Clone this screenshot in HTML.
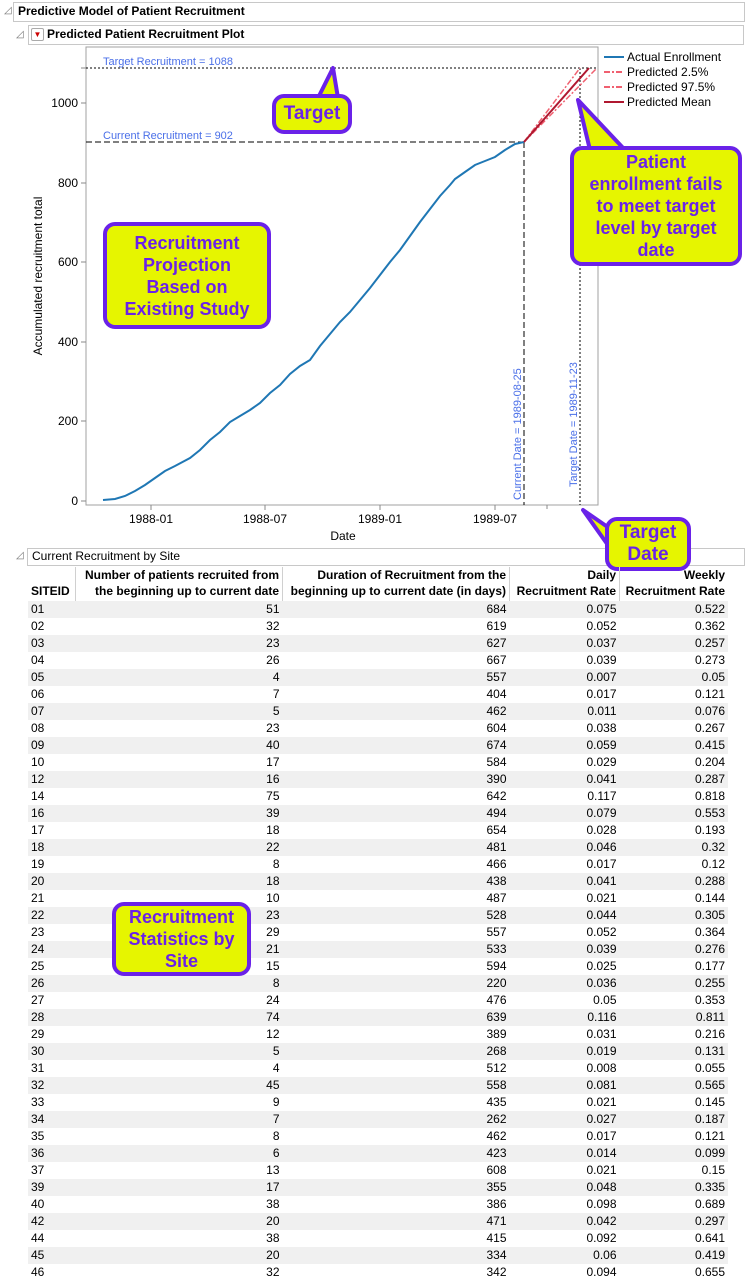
<!DOCTYPE html>
<html><head><meta charset="utf-8"><style>
body{margin:0;width:746px;height:1283px;background:#fff;font-family:"Liberation Sans",sans-serif;position:relative;overflow:hidden}
.hdr{position:absolute;border:1px solid #c8c8c8;background:#fff;font-weight:bold;font-size:12px;line-height:17px;padding-left:4px;box-sizing:border-box}
.tri{position:absolute;font-size:10px;color:#777}
table{position:absolute;left:28px;top:567px;border-collapse:collapse;font-size:12px}
td,th{padding:0 3px;height:17px;line-height:17px;text-align:right;white-space:nowrap}
th{font-weight:bold;vertical-align:bottom;line-height:16px;padding-bottom:2px;border-left:1px solid #d0d0d0}
th:first-child{border-left:none;text-align:left}
td:first-child{text-align:left}
tr.g td{background:#f0f0f0}
.co{position:absolute;background:#e6f500;border:4px solid #6a22e8;border-radius:12px;color:#6a22e8;font-weight:bold;text-align:center;box-sizing:border-box;display:flex;align-items:center;justify-content:center}
</style></head><body>
<div class="tri" style="left:4px;top:5px">◿</div>
<div class="hdr" style="left:13px;top:2px;width:732px;height:20px;">Predictive Model of Patient Recruitment</div>
<div class="tri" style="left:16px;top:29px">◿</div>
<div class="hdr" style="left:28px;top:25px;width:716px;height:20px;padding-left:18px">Predicted Patient Recruitment Plot</div>
<div style="position:absolute;left:31px;top:28px;width:11px;height:11px;border:1px solid #aaa;border-radius:2px;background:#fff;color:#c00;font-size:8px;line-height:11px;text-align:center">▼</div>
<div class="tri" style="left:16px;top:550px">◿</div>
<div class="hdr" style="left:27px;top:548px;width:718px;height:18px;font-weight:normal;line-height:15px">Current Recruitment by Site</div>

<svg style="position:absolute;left:0;top:0" width="746" height="560" font-family="Liberation Sans, sans-serif">
<rect x="86" y="47" width="512" height="458" fill="#fff" stroke="#a0a0a0"/>
<g font-size="12" fill="#000" text-anchor="end">
<text x="78" y="505">0</text><text x="78" y="425">200</text><text x="78" y="346">400</text><text x="78" y="266">600</text><text x="78" y="187">800</text><text x="78" y="107">1000</text>
</g>
<g stroke="#888"><line x1="81" y1="501" x2="86" y2="501"/><line x1="81" y1="421" x2="86" y2="421"/><line x1="81" y1="342" x2="86" y2="342"/><line x1="81" y1="262" x2="86" y2="262"/><line x1="81" y1="183" x2="86" y2="183"/><line x1="81" y1="103" x2="86" y2="103"/><line x1="81" y1="68" x2="86" y2="68"/>
<line x1="151" y1="505" x2="151" y2="510"/><line x1="265" y1="505" x2="265" y2="510"/><line x1="380" y1="505" x2="380" y2="510"/><line x1="495" y1="505" x2="495" y2="510"/><line x1="547" y1="505" x2="547" y2="509"/></g>
<g font-size="12" text-anchor="middle"><text x="151" y="523">1988-01</text><text x="265" y="523">1988-07</text><text x="380" y="523">1989-01</text><text x="495" y="523">1989-07</text><text x="343" y="540">Date</text></g>
<text transform="translate(42,276) rotate(-90)" font-size="12" text-anchor="middle">Accumulated recruitment total</text>
<line x1="86" y1="68" x2="598" y2="68" stroke="#000" stroke-dasharray="2,2"/>
<line x1="86" y1="142" x2="524" y2="142" stroke="#000" stroke-dasharray="6,3"/>
<line x1="524" y1="142" x2="524" y2="505" stroke="#000" stroke-dasharray="6,3"/>
<line x1="580" y1="68" x2="580" y2="505" stroke="#000" stroke-dasharray="2,2"/>
<g font-size="11" fill="#4a6fe8"><text x="103" y="65">Target Recruitment = 1088</text><text x="103" y="139">Current Recruitment = 902</text>
<text transform="translate(521,500) rotate(-90)">Current Date = 1989-08-25</text><text transform="translate(577,487) rotate(-90)">Target Date = 1989-11-23</text></g>
<polyline fill="none" stroke="#1f77b4" stroke-width="2" points="103,500 115,499 125,496 135,491 145,485 155,478 165,471 175,466 190,458 200,450 210,440 220,432 230,422 240,416 250,410 260,403 270,393 280,385 290,374 300,366 310,360 320,346 330,334 340,322 350,312 360,300 370,288 380,275 390,262 400,250 410,236 420,222 430,209 440,196 450,185 455,179 465,172 475,165 485,161 495,157 505,150 515,144 524,142"/>
<line x1="524" y1="142" x2="580" y2="68" stroke="#f06070" stroke-width="1.5" stroke-dasharray="6,2,2,2"/>
<line x1="524" y1="142" x2="597" y2="68" stroke="#f06070" stroke-width="1.5" stroke-dasharray="6,2,2,2"/>
<line x1="524" y1="142" x2="589" y2="68" stroke="#b01830" stroke-width="2"/>
<g font-size="12"><line x1="604" y1="57" x2="624" y2="57" stroke="#1f77b4" stroke-width="2"/><text x="627" y="61">Actual Enrollment</text>
<line x1="604" y1="72" x2="624" y2="72" stroke="#f06070" stroke-width="2" stroke-dasharray="6,2,2,2"/><text x="627" y="76">Predicted 2.5%</text>
<line x1="604" y1="87" x2="624" y2="87" stroke="#f06070" stroke-width="2" stroke-dasharray="6,2,2,2"/><text x="627" y="91">Predicted 97.5%</text>
<line x1="604" y1="102" x2="624" y2="102" stroke="#b01830" stroke-width="2"/><text x="627" y="106">Predicted Mean</text></g>
<g fill="#e6f500" stroke="#6a22e8" stroke-width="4" stroke-linejoin="round">
<polygon points="318,98 333,68 338,98"/><polygon points="590,150 578,100 625,150"/><polygon points="612,530 583,510 610,548"/></g>
</svg>
<div class="co" style="left:272px;top:94px;width:80px;height:40px;font-size:19px">Target</div>
<div class="co" style="left:570px;top:146px;width:172px;height:120px;font-size:18px;line-height:22px;padding:0 10px">Patient enrollment fails to meet target level by target date</div>
<div class="co" style="left:103px;top:222px;width:168px;height:107px;font-size:18px;line-height:22px;padding:0 14px">Recruitment Projection Based on Existing Study</div>
<div class="co" style="left:605px;top:517px;width:86px;height:54px;font-size:19px;line-height:22px">Target Date</div>

<table>
<tr><th style="width:41px">SITEID</th><th style="width:200px">Number of patients recruited from<br>the beginning up to current date</th><th style="width:220px">Duration of Recruitment from the<br>beginning up to current date (in days)</th><th style="width:103px">Daily<br>Recruitment Rate</th><th style="width:102px">Weekly<br>Recruitment Rate</th></tr>
<tr class="g"><td>01</td><td>51</td><td>684</td><td>0.075</td><td>0.522</td></tr>
<tr><td>02</td><td>32</td><td>619</td><td>0.052</td><td>0.362</td></tr>
<tr class="g"><td>03</td><td>23</td><td>627</td><td>0.037</td><td>0.257</td></tr>
<tr><td>04</td><td>26</td><td>667</td><td>0.039</td><td>0.273</td></tr>
<tr class="g"><td>05</td><td>4</td><td>557</td><td>0.007</td><td>0.05</td></tr>
<tr><td>06</td><td>7</td><td>404</td><td>0.017</td><td>0.121</td></tr>
<tr class="g"><td>07</td><td>5</td><td>462</td><td>0.011</td><td>0.076</td></tr>
<tr><td>08</td><td>23</td><td>604</td><td>0.038</td><td>0.267</td></tr>
<tr class="g"><td>09</td><td>40</td><td>674</td><td>0.059</td><td>0.415</td></tr>
<tr><td>10</td><td>17</td><td>584</td><td>0.029</td><td>0.204</td></tr>
<tr class="g"><td>12</td><td>16</td><td>390</td><td>0.041</td><td>0.287</td></tr>
<tr><td>14</td><td>75</td><td>642</td><td>0.117</td><td>0.818</td></tr>
<tr class="g"><td>16</td><td>39</td><td>494</td><td>0.079</td><td>0.553</td></tr>
<tr><td>17</td><td>18</td><td>654</td><td>0.028</td><td>0.193</td></tr>
<tr class="g"><td>18</td><td>22</td><td>481</td><td>0.046</td><td>0.32</td></tr>
<tr><td>19</td><td>8</td><td>466</td><td>0.017</td><td>0.12</td></tr>
<tr class="g"><td>20</td><td>18</td><td>438</td><td>0.041</td><td>0.288</td></tr>
<tr><td>21</td><td>10</td><td>487</td><td>0.021</td><td>0.144</td></tr>
<tr class="g"><td>22</td><td>23</td><td>528</td><td>0.044</td><td>0.305</td></tr>
<tr><td>23</td><td>29</td><td>557</td><td>0.052</td><td>0.364</td></tr>
<tr class="g"><td>24</td><td>21</td><td>533</td><td>0.039</td><td>0.276</td></tr>
<tr><td>25</td><td>15</td><td>594</td><td>0.025</td><td>0.177</td></tr>
<tr class="g"><td>26</td><td>8</td><td>220</td><td>0.036</td><td>0.255</td></tr>
<tr><td>27</td><td>24</td><td>476</td><td>0.05</td><td>0.353</td></tr>
<tr class="g"><td>28</td><td>74</td><td>639</td><td>0.116</td><td>0.811</td></tr>
<tr><td>29</td><td>12</td><td>389</td><td>0.031</td><td>0.216</td></tr>
<tr class="g"><td>30</td><td>5</td><td>268</td><td>0.019</td><td>0.131</td></tr>
<tr><td>31</td><td>4</td><td>512</td><td>0.008</td><td>0.055</td></tr>
<tr class="g"><td>32</td><td>45</td><td>558</td><td>0.081</td><td>0.565</td></tr>
<tr><td>33</td><td>9</td><td>435</td><td>0.021</td><td>0.145</td></tr>
<tr class="g"><td>34</td><td>7</td><td>262</td><td>0.027</td><td>0.187</td></tr>
<tr><td>35</td><td>8</td><td>462</td><td>0.017</td><td>0.121</td></tr>
<tr class="g"><td>36</td><td>6</td><td>423</td><td>0.014</td><td>0.099</td></tr>
<tr><td>37</td><td>13</td><td>608</td><td>0.021</td><td>0.15</td></tr>
<tr class="g"><td>39</td><td>17</td><td>355</td><td>0.048</td><td>0.335</td></tr>
<tr><td>40</td><td>38</td><td>386</td><td>0.098</td><td>0.689</td></tr>
<tr class="g"><td>42</td><td>20</td><td>471</td><td>0.042</td><td>0.297</td></tr>
<tr><td>44</td><td>38</td><td>415</td><td>0.092</td><td>0.641</td></tr>
<tr class="g"><td>45</td><td>20</td><td>334</td><td>0.06</td><td>0.419</td></tr>
<tr><td>46</td><td>32</td><td>342</td><td>0.094</td><td>0.655</td></tr>
</table>
<div class="co" style="left:112px;top:902px;width:139px;height:74px;font-size:18px;line-height:22px">Recruitment Statistics by Site</div>
</body></html>
